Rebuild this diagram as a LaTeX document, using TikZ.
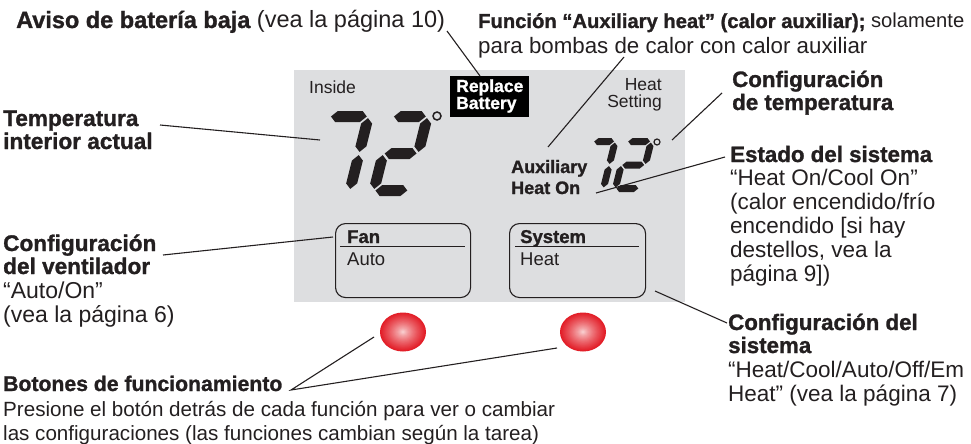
\documentclass[tikz,border=0pt]{standalone}
\usepackage{fontspec}
\setmainfont{Liberation Sans}[BoldFeatures={FakeBold=1.2}]
\usetikzlibrary{calc}
\definecolor{lcdbg}{RGB}{221,222,224}
\definecolor{lcdink}{RGB}{35,31,32}
\definecolor{btnred}{RGB}{226,28,38}
\definecolor{btnhi}{RGB}{252,226,226}

% horizontal hexagon segment: x1 x2 y halfthickness
\newcommand{\segH}[4]{\fill[lcdink] (#1,#3) -- (#1+#4,#3-#4) -- (#2-#4,#3-#4) -- (#2,#3) -- (#2-#4,#3+#4) -- (#1+#4,#3+#4) -- cycle;}
% vertical hexagon segment: x y1 y2 halfthickness
\newcommand{\segV}[4]{\fill[lcdink] (#1,#2) -- (#1+#4,#2+#4) -- (#1+#4,#3-#4) -- (#1,#3) -- (#1-#4,#3-#4) -- (#1-#4,#2+#4) -- cycle;}
% digit geometry: W H T gap
\newcommand{\digitgeom}[4]{%
  \pgfmathsetmacro{\dh}{#3/2}%
  \pgfmathsetmacro{\xl}{#3/2}%
  \pgfmathsetmacro{\xr}{#1-#3/2}%
  \pgfmathsetmacro{\yt}{-#2+#3/2}%
  \pgfmathsetmacro{\ym}{-#2/2}%
  \pgfmathsetmacro{\yb}{-#3/2}%
  \pgfmathsetmacro{\gp}{#4}}
\newcommand{\digitseven}[4]{\digitgeom{#1}{#2}{#3}{#4}%
  \segH{\xl+\gp}{\xr-\gp}{\yt}{\dh}
  \segV{\xr}{\yt+\gp}{\ym-\gp}{\dh}
  \segV{\xr}{\ym+\gp}{\yb-\gp}{\dh}}
\newcommand{\digittwo}[4]{\digitgeom{#1}{#2}{#3}{#4}%
  \segH{\xl+\gp}{\xr-\gp}{\yt}{\dh}
  \segV{\xr}{\yt+\gp}{\ym-\gp}{\dh}
  \segH{\xl+\gp}{\xr-\gp}{\ym}{\dh}
  \segV{\xl}{\ym+\gp}{\yb-\gp}{\dh}
  \segH{\xl+\gp}{\xr-\gp}{\yb}{\dh}}

\begin{document}
\begin{tikzpicture}[x=1pt,y=-1pt,
  outer/.style={font=\fontsize{22.5}{24}\selectfont, inner sep=0pt, anchor=base west, text=lcdink},
  outerb/.style={outer, font=\bfseries\fontsize{22.3}{24}\selectfont},
  lefto/.style={outer, font=\fontsize{23}{24}\selectfont},
  leftb/.style={outer, font=\bfseries\fontsize{22.6}{24}\selectfont},
  disp/.style={font=\fontsize{17.5}{16}\selectfont, inner sep=0pt, anchor=base west, text=lcdink},
  dispb/.style={disp, font=\bfseries\fontsize{17.5}{16}\selectfont},
  lead/.style={line width=1.1pt, lcdink},
  panel/.style={draw=lcdink, line width=1.1pt, rounded corners=10pt, inner sep=0pt,
    anchor=north west, minimum width=135pt, minimum height=74pt}]
\useasboundingbox (0,0) rectangle (971,444);

% LCD panel
\node[fill=lcdbg, inner sep=0pt, anchor=north west, minimum width=391pt, minimum height=232pt] (lcd) at (294,70) {};

% LCD texts
\node[disp] (inside) at (309,93) {Inside};
\node[fill=black, inner sep=0pt, anchor=north west, minimum width=79pt, minimum height=41pt] (battery) at (450,76) {};
\node[dispb, text=white] (bat1) at (456,92) {Replace};
\node[dispb, text=white] (bat2) at (456,109) {Battery};
\node[disp, anchor=base east] (hs1) at (662,90) {Heat};
\node[disp, anchor=base east] (hs2) at (662,107) {Setting};
\node[dispb, font=\bfseries\fontsize{18}{16}\selectfont] (aux1) at (511,173) {Auxiliary};
\node[dispb, font=\bfseries\fontsize{18}{16}\selectfont] (aux2) at (511,194) {Heat On};

% big digits
\begin{scope}[shift={(304,196)}, xslant=0.25]
  \digitseven{50}{85}{11}{1.6}
\end{scope}
\begin{scope}[shift={(367,196)}, xslant=0.25]
  \digittwo{46}{85}{11}{1.6}
\end{scope}
\draw[lcdink, line width=1.5pt] (437,116) circle [radius=4];

% small digits
\begin{scope}[shift={(577,192)}, xslant=0.25]
  \digitseven{29}{54}{7}{1.1}
\end{scope}
\begin{scope}[shift={(611,192)}, xslant=0.25]
  \digittwo{31}{54}{7}{1.1}
\end{scope}
\draw[lcdink, line width=1.2pt] (657,142) circle [radius=3];

% Fan / System boxes
\node[panel] (fanbox) at (335,223) {};
\node[panel, minimum width=136pt] (sysbox) at (509,223) {};
\draw[lcdink, line width=1pt] ($(fanbox.north west)+(5,23)$) -- ($(fanbox.north east)+(-6,23)$);
\draw[lcdink, line width=1pt] ($(sysbox.north west)+(6,23)$) -- ($(sysbox.north east)+(-7,23)$);
\node[dispb, font=\bfseries\fontsize{18.5}{16}\selectfont] (fanlbl) at (347,243) {Fan};
\node[disp, font=\fontsize{18.5}{16}\selectfont] (fanval) at (347,265) {Auto};
\node[dispb, font=\bfseries\fontsize{18.5}{16}\selectfont] (syslbl) at (520,243) {System};
\node[disp, font=\fontsize{18.5}{16}\selectfont] (sysval) at (520,265) {Heat};

% buttons
\coordinate (btnL) at (403,332);
\coordinate (btnR) at (583,332);
\foreach \k in {0,...,29}{
  \pgfmathsetmacro{\f}{1-\k/30}
  \pgfmathsetmacro{\p}{100*(\f)^0.75}
  \fill[btnred!\p!btnhi] (btnL) ellipse [x radius=23*\f, y radius=19.5*\f];
  \fill[btnred!\p!btnhi] (btnR) ellipse [x radius=23*\f, y radius=19.5*\f];
}

% outer labels: top
\node[lefto, font=\fontsize{23.5}{24}\selectfont] (aviso) at (16,28) {{\bfseries Aviso de batería baja} (vea la página 10)};
\node[outer, font=\fontsize{20.2}{24}\selectfont] (func1) at (478,28) {{\bfseries Función “Auxiliary heat” (calor auxiliar);} solamente};
\node[outer, font=\fontsize{22.3}{24}\selectfont] (func2) at (478,53) {para bombas de calor con calor auxiliar};

% right labels
\node[outerb] (ct1) at (732,87) {Configuración};
\node[outerb] (ct2) at (732,110) {de temperatura};
\node[outerb] (es1) at (730,162) {Estado del sistema};
\node[outer] (es2) at (730,185) {“Heat On/Cool On”};
\node[outer] (es3) at (730,209) {(calor encendido/frío};
\node[outer] (es4) at (730,233) {encendido [si hay};
\node[outer] (es5) at (730,257) {destellos, vea la};
\node[outer] (es6) at (730,281) {página 9])};
\node[outerb] (cs1) at (728,330) {Configuración del};
\node[outerb] (cs2) at (728,353) {sistema};
\node[outer] (cs3) at (728,377) {“Heat/Cool/Auto/Off/Em};
\node[outer] (cs4) at (728,401) {Heat” (vea la página 7)};

% left labels
\node[leftb] (ti1) at (3,126) {Temperatura};
\node[leftb] (ti2) at (3,149) {interior actual};
\node[leftb] (cv1) at (3,251) {Configuración};
\node[leftb] (cv2) at (3,274) {del ventilador};
\node[lefto] (cv3) at (3,298) {“Auto/On”};
\node[lefto] (cv4) at (3,322) {(vea la página 6)};

% bottom labels
\node[outerb, font=\bfseries\fontsize{21.2}{24}\selectfont] (bo1) at (3,391) {Botones de funcionamiento};
\node[outer, font=\fontsize{20.6}{24}\selectfont] (bo2) at (3,416) {Presione el botón detrás de cada función para ver o cambiar};
\node[outer, font=\fontsize{20.6}{24}\selectfont] (bo3) at (3,440) {las configuraciones (las funciones cambian según la tarea)};

% leader coordinates
\coordinate (avisoEnd) at (447,31);
\coordinate (batTip) at (480,76);
\coordinate (funcEnd) at (624,57);
\coordinate (auxTip) at (548,147);
\coordinate (ctEnd) at (722,93);
\coordinate (ctTip) at (672,140);
\coordinate (esEnd) at (725,157);
\coordinate (esTip) at (596,193);
\coordinate (csEnd) at (727,323);
\coordinate (csTip) at (655,291);
\coordinate (tiEnd) at (160,125);
\coordinate (tiTip) at (320,140);
\coordinate (cvEnd) at (163,255);
\coordinate (cvTip) at (333,237);
\coordinate (boVertex) at (291,390);
\coordinate (boTipL) at (374,337);
\coordinate (boTipR) at (557,348);

\draw[lead] (avisoEnd) -- (batTip);
\draw[lead] (funcEnd) -- (auxTip);
\draw[lead] (ctEnd) -- (ctTip);
\draw[lead] (esEnd) -- (esTip);
\draw[lead] (csEnd) -- (csTip);
\draw[lead] (tiEnd) -- (tiTip);
\draw[lead] (cvEnd) -- (cvTip);
\draw[lead] (boTipL) -- (boVertex) -- (boTipR);
\end{tikzpicture}
\end{document}
